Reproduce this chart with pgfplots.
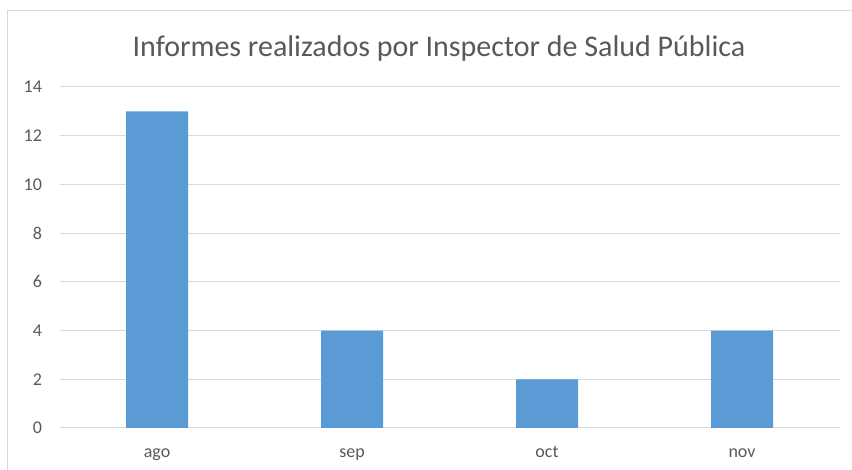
\documentclass[border=0pt]{standalone}
\usepackage{pgfplots}
\pgfplotsset{compat=1.18}
\usepackage{fontspec}
\setmainfont{Carlito}
\definecolor{barblue}{HTML}{5B9BD5}
\definecolor{gridgray}{HTML}{D9D9D9}
\definecolor{txtgray}{HTML}{595959}
\begin{document}
\begin{tikzpicture}[x=1pt,y=1pt]
\path[use as bounding box] (0,0) rectangle (852,470);
\draw[gridgray, line width=1.2pt] (7.5,0) -- (7.5,459.5) -- (852,459.5);
\node[font=\fontsize{30}{34}\selectfont, text=txtgray] at (439,421) {Informes realizados por Inspector de Salud Pública};
\begin{axis}[
  at={(59.5pt,42pt)}, anchor=south west,
  scale only axis, width=780pt, height=341pt,
  xmin=-0.5, xmax=3.5, ymin=0, ymax=14,
  ytick={0,2,...,14},
  xtick=data, xticklabels={ago,sep,oct,nov},
  axis line style={draw=none},
  major tick length=0pt,
  ymajorgrids, grid style={gridgray, line width=1pt},
  tick label style={font=\fontsize{18}{21}\selectfont, text=txtgray},
  /pgf/number format/assume math mode=true,
  yticklabel style={xshift=-14pt},
  xticklabel style={anchor=base, yshift=-30pt},
  clip=false,
]
\addplot[ybar, bar width=62pt, fill=barblue, draw=none] coordinates {(0,13) (1,4) (2,2) (3,4)};
\end{axis}
\end{tikzpicture}
\end{document}
